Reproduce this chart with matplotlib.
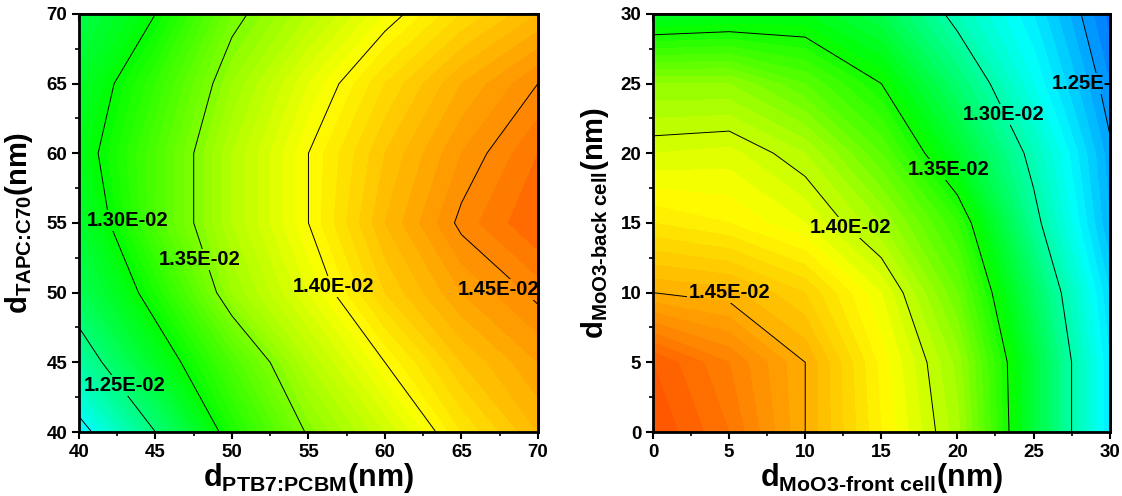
import numpy as np
import matplotlib
matplotlib.use('Agg')
import matplotlib.pyplot as plt
from matplotlib import font_manager
from matplotlib.colors import LinearSegmentedColormap, Normalize
from matplotlib.ticker import MultipleLocator
from matplotlib.path import Path

# narrow bold face like the original; fall back to the normal width
FACE = 'Liberation Sans'
try:
    font_manager.findfont(font_manager.FontProperties(family='Liberation Sans Narrow'),
                          fallback_to_default=False)
    FACE = 'Liberation Sans Narrow'
except ValueError:
    pass

plt.rcParams['font.family'] = [FACE, 'Liberation Sans', 'DejaVu Sans']
plt.rcParams['font.weight'] = 'bold'
plt.rcParams['mathtext.fontset'] = 'custom'
for k in ('rm', 'bf', 'it', 'sf'):
    plt.rcParams['mathtext.' + k] = FACE + ':bold'

# left panel: active layer thicknesses (nm)
x_left = [40, 45, 50, 55, 60, 65, 70]
y_left = [40, 45, 50, 55, 60, 65, 70]
# values in units of 1E-02, rows = y, cols = x
z_left = [
    [1.190, 1.250, 1.310, 1.352, 1.380, 1.410, 1.430],
    [1.235, 1.285, 1.330, 1.370, 1.400, 1.425, 1.440],
    [1.265, 1.310, 1.360, 1.390, 1.420, 1.440, 1.452],
    [1.280, 1.330, 1.370, 1.400, 1.430, 1.452, 1.465],
    [1.290, 1.330, 1.370, 1.400, 1.425, 1.445, 1.460],
    [1.283, 1.320, 1.360, 1.390, 1.415, 1.435, 1.450],
    [1.270, 1.300, 1.345, 1.370, 1.395, 1.415, 1.430],
]

# right panel: MoO3 thicknesses (nm)
x_right = [0, 5, 10, 15, 20, 25, 30]
y_right = [0, 5, 10, 15, 20, 25, 30]
z_right = [
    [1.490, 1.475, 1.450, 1.420, 1.392, 1.330, 1.270],
    [1.485, 1.470, 1.450, 1.418, 1.388, 1.330, 1.270],
    [1.450, 1.447, 1.435, 1.410, 1.375, 1.320, 1.265],
    [1.425, 1.420, 1.410, 1.390, 1.360, 1.305, 1.255],
    [1.405, 1.407, 1.395, 1.370, 1.335, 1.295, 1.252],
    [1.385, 1.385, 1.370, 1.350, 1.315, 1.280, 1.245],
    [1.335, 1.338, 1.340, 1.325, 1.295, 1.270, 1.238],
]

line_levels = [1.20, 1.25, 1.30, 1.35, 1.40, 1.45]

palette = ['#0000ff', '#00ffff', '#00ff00', '#ffff00', '#ff8000', '#ff0000']
anchors_left = [1.09, 1.195, 1.30, 1.40, 1.455, 1.51]
anchors_right = [1.205, 1.275, 1.345, 1.415, 1.47, 1.525]

# label centres (one per labelled line, low to high)
labels_left = [(43.0, 43.35), (43.2, 55.2), (47.9, 52.4), (56.65, 50.45), (67.4, 50.2)]
labels_right = [(28.85, 25.0), (23.0, 22.8), (19.4, 18.8), (12.95, 14.7), (5.0, 10.0)]


def style_axes(ax):
    ax.xaxis.set_major_locator(MultipleLocator(5))
    ax.xaxis.set_minor_locator(MultipleLocator(2.5))
    ax.yaxis.set_major_locator(MultipleLocator(5))
    ax.yaxis.set_minor_locator(MultipleLocator(2.5))
    ax.tick_params(which='major', direction='out', length=5, width=1.5, labelsize=13.5)
    ax.tick_params(which='minor', direction='out', length=3, width=1.2)
    for lab in ax.get_xticklabels() + ax.get_yticklabels():
        lab.set_fontweight('bold')
    for s in ax.spines.values():
        s.set_linewidth(2)

    top = ax.secondary_xaxis('top')
    top.xaxis.set_major_locator(MultipleLocator(5))
    top.xaxis.set_minor_locator(MultipleLocator(2.5))
    top.tick_params(which='major', direction='in', length=5, width=1.5, labeltop=False)
    top.tick_params(which='minor', direction='in', length=3, width=1.2)
    top.spines['top'].set_linewidth(2)
    right = ax.secondary_yaxis('right')
    right.yaxis.set_major_locator(MultipleLocator(5))
    right.yaxis.set_minor_locator(MultipleLocator(2.5))
    right.tick_params(which='major', direction='in', length=5, width=1.5, labelright=False)
    right.tick_params(which='minor', direction='in', length=3, width=1.2)
    right.spines['right'].set_linewidth(2)


def draw_panel(ax, xs, ys, zs, anchors, label_pos, xlabel, ylabel, xlim, ylim, ylab_x):
    z = np.array(zs) * 1e-2
    lo, hi = anchors[0], anchors[-1]
    stops = [(a - lo) / (hi - lo) for a in anchors]
    cmap = LinearSegmentedColormap.from_list('rb', list(zip(stops, palette)))
    norm = Normalize(lo * 1e-2, hi * 1e-2)
    fill_levels = np.arange(1.15, 1.53, 0.005) * 1e-2
    ax.contourf(xs, ys, z, levels=fill_levels, cmap=cmap, norm=norm)
    cs = ax.contour(xs, ys, z, levels=[v * 1e-2 for v in line_levels],
                    colors='black', linewidths=0.7)
    texts = ax.clabel(cs, fmt=lambda v: '%.2E' % v, fontsize=14.5,
                      inline=False, manual=label_pos)
    for t, p in zip(texts, label_pos):
        t.set_position(p)
        t.set_rotation(0)
        t.set_fontweight('bold')
        t.set_clip_path(ax.patch)

    ax.set_xlim(*xlim)
    ax.set_ylim(*ylim)
    style_axes(ax)
    ax.set_xlabel(xlabel, fontsize=22, fontweight='bold', labelpad=0)
    ax.set_ylabel(ylabel, fontsize=21, fontweight='bold')
    ax.yaxis.set_label_coords(ylab_x, 0.5)
    return cs, texts


def cut_lines(ax, cs, texts, pad=1):
    # break the contour lines where the horizontal labels sit
    inv = ax.transData.inverted()
    x0, x1 = ax.get_xlim()
    y0, y1 = ax.get_ylim()
    big = 100
    verts = [(x0 - big, y0 - big), (x1 + big, y0 - big), (x1 + big, y1 + big),
             (x0 - big, y1 + big), (x0 - big, y0 - big)]
    codes = [Path.MOVETO, Path.LINETO, Path.LINETO, Path.LINETO, Path.CLOSEPOLY]
    for t in texts:
        bb = t.get_window_extent()
        (a, b) = inv.transform((bb.x0 - pad, bb.y0 - pad))
        (c, d) = inv.transform((bb.x1 + pad, bb.y1 + pad))
        verts += [(a, b), (a, d), (c, d), (c, b), (a, b)]
        codes += [Path.MOVETO, Path.LINETO, Path.LINETO, Path.LINETO, Path.CLOSEPOLY]
    cs.set_clip_path(Path(verts, codes), ax.transData)


fig = plt.figure(figsize=(11.22, 4.96), dpi=100)
ax1 = fig.add_axes([0.0704, 0.129, 0.409, 0.843])
ax2 = fig.add_axes([0.582, 0.129, 0.407, 0.843])

cs1, t1 = draw_panel(ax1, x_left, y_left, z_left, anchors_left, labels_left,
                     r'd$_{\text{PTB7:PCBM}}$(nm)', r'd$_{\text{TAPC:C70}}$(nm)',
                     (40, 70), (40, 70), -0.095)
cs2, t2 = draw_panel(ax2, x_right, y_right, z_right, anchors_right, labels_right,
                     r'd$_{\text{MoO3-front cell}}$(nm)', r'd$_{\text{MoO3-back cell}}$(nm)',
                     (0, 30), (0, 30), -0.092)

fig.canvas.draw()
cut_lines(ax1, cs1, t1)
cut_lines(ax2, cs2, t2)

fig.savefig('out.png', dpi=100)
